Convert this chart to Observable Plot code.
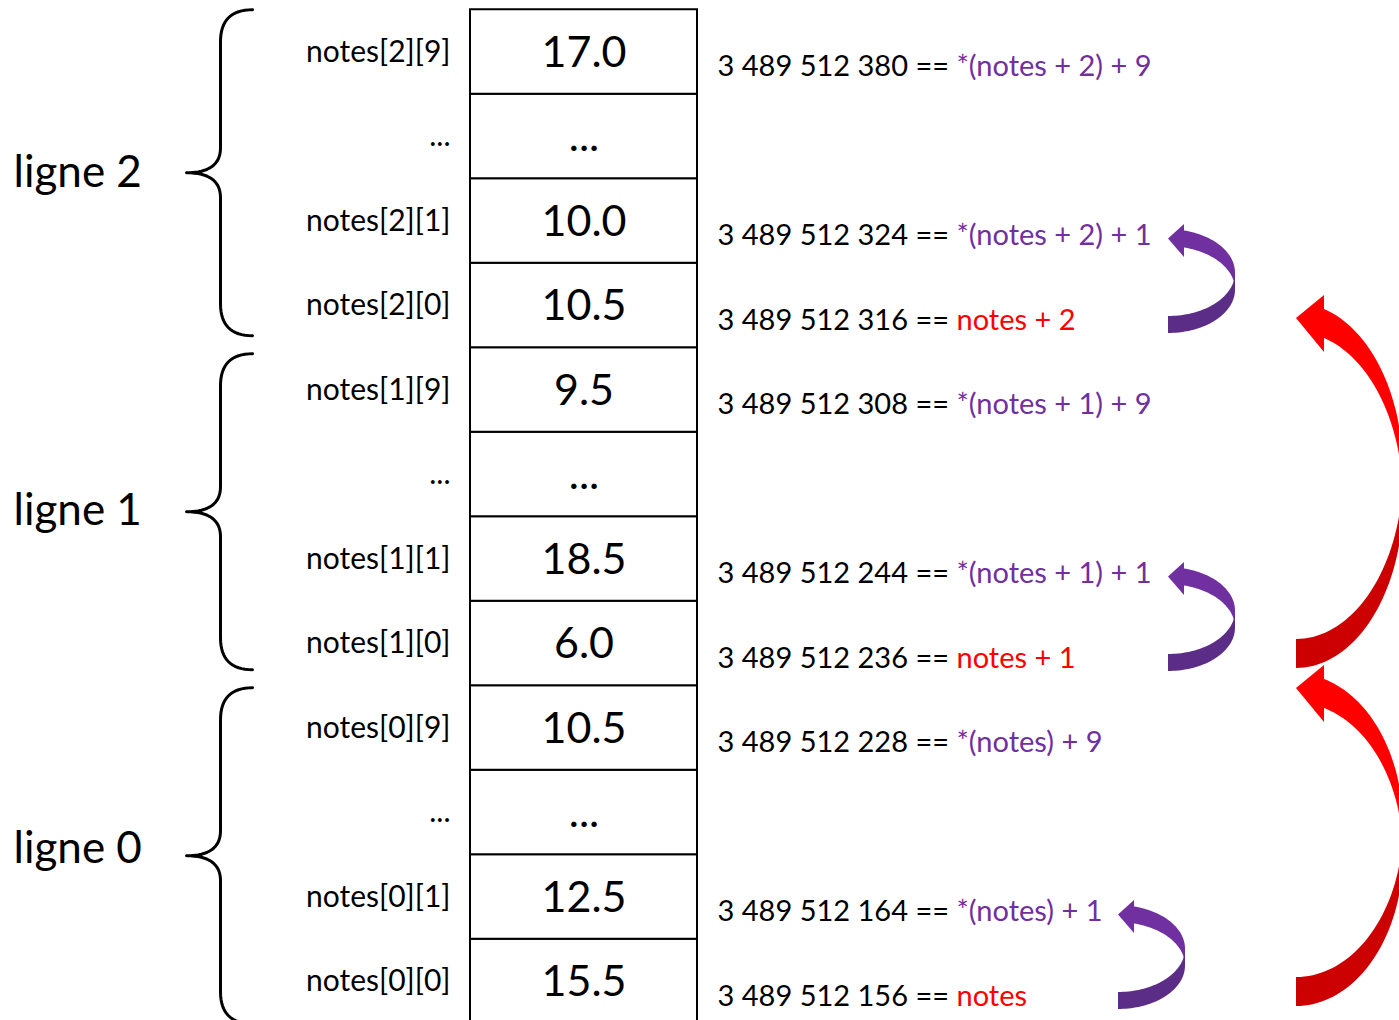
<!DOCTYPE html>
<html>
<head>
<meta charset="utf-8">
<script src="https://cdn.jsdelivr.net/npm/d3@7"></script>
<script src="https://cdn.jsdelivr.net/npm/@observablehq/plot@0.6"></script>
<style>
  html, body { margin: 0; padding: 0; background: #fff; overflow: hidden; }
</style>
</head>
<body>
<div id="chart"></div>
<script>
// ---------- data (rows from bottom to top of the memory column) ----------
const labels = ["notes[0][0]", "notes[0][1]", "...", "notes[0][9]",
                "notes[1][0]", "notes[1][1]", "...", "notes[1][9]",
                "notes[2][0]", "notes[2][1]", "...", "notes[2][9]"];
const values = ["15.5", "12.5", "...", "10.5",
                "6.0", "18.5", "...", "9.5",
                "10.5", "10.0", "...", "17.0"];
const addresses = ["3 489 512 156", "3 489 512 164", null, "3 489 512 228",
                   "3 489 512 236", "3 489 512 244", null, "3 489 512 308",
                   "3 489 512 316", "3 489 512 324", null, "3 489 512 380"];
const expressions = ["notes", "*(notes) + 1", null, "*(notes) + 9",
                     "notes + 1", "*(notes + 1) + 1", null, "*(notes + 1) + 9",
                     "notes + 2", "*(notes + 2) + 1", null, "*(notes + 2) + 9"];
const groups = ["ligne 0", "ligne 1", "ligne 2"];
// pointer jumps: element +1 (purple) and row +1 (red), as [from row, to row]
const elementJumps = [[0, 1], [4, 5], [8, 9]];
const rowJumps = [[0, 4], [4, 8]];

// ---------- layout ----------
const W = 1399, H = 1020;
const ROW_PX = 84.5;
const ROW0 = 981;                       // pixel centre of the bottom row
const Y_RANGE = [ROW0 + ROW_PX / 2, ROW0 + ROW_PX / 2 - 12 * ROW_PX];
const CELL_X1 = 470, CELL_X2 = 697;
const LABEL_X = 450, ADDR_X = 717, GROUP_X = 13;
const BRACE = {end: 252, stem: 220, tip: 186, endCurve: 32, midCurve: 25};
const braceShift = [1, -5, -6];         // tip offset from the group centre, px
const braceHalf = [168, 158, 163];      // half length of each brace, px
const PURPLE = "#7030A0", PURPLE_DARK = "#5C2D87", RED = "#FF0000", RED_DARK = "#CC0000";
const elementArrowX = [1118, 1168, 1168];
const rowArrowX = [1296, 1296];
const rowArrowTip = [45, 13];           // tip offset below the centre of the target row

// px below centre of row k  -> y value in row units
const at = (k, px) => k - px / ROW_PX;

const rows = labels.map((label, k) => ({
  k, label, value: values[k], addr: addresses[k], expr: expressions[k]
}));

// ---------- braces ----------
function quad(p0, p1, p2, n = 16) {
  const out = [];
  for (let i = 0; i <= n; i++) {
    const t = i / n, a = (1 - t) * (1 - t), b = 2 * (1 - t) * t, c = t * t;
    out.push([a * p0[0] + b * p1[0] + c * p2[0], a * p0[1] + b * p1[1] + c * p2[1]]);
  }
  return out;
}
const bracePts = [];
groups.forEach((g, gi) => {
  const c = 4 * gi + 1.5;
  const {end, stem, tip, endCurve, midCurve} = BRACE;
  const half = braceHalf[gi];
  const pts = [
    ...quad([end, -half], [stem, -half], [stem, -half + endCurve]),
    ...quad([stem, -midCurve], [stem, 0], [tip, 0]),
    ...quad([tip, 0], [stem, 0], [stem, midCurve]),
    ...quad([stem, half - endCurve], [stem, half], [end, half])
  ];
  pts.forEach(([x, py]) => bracePts.push({g, x, y: at(c, py + braceShift[gi])}));
});

// ---------- curved block arrows (ribbon halves + head) ----------
const arrowParts = [];
function ribbonArrow(id, lo, hi, x0, o) {
  // all px offsets relative to centre of row lo (downwards positive)
  const tip = (hi - lo) * -ROW_PX + o.tip;
  const c = Math.sqrt(1 - (o.hw / o.rx) ** 2);
  const flatTop = o.bottom - o.t;
  const ry = (flatTop - (tip - o.bandAtHead)) / (1 + c);
  const cy = flatTop - ry;
  const th0 = Math.asin(o.hw / o.rx);
  const N = 40;
  for (let i = 0; i <= N; i++) {
    const th = th0 + (Math.PI / 2 - th0) * i / N;
    const x = x0 + o.rx * Math.sin(th), yt = cy - ry * Math.cos(th);
    arrowParts.push({id: id + "u", x, y1: at(lo, yt), y2: at(lo, yt + o.t), fill: o.light});
  }
  for (let i = 0; i <= N; i++) {
    const th = Math.PI / 2 + (Math.PI / 2) * i / N;
    const x = x0 + o.rx * Math.sin(th), yt = cy - ry * Math.cos(th);
    arrowParts.push({id: id + "d", x, y1: at(lo, yt), y2: at(lo, yt + o.t), fill: o.dark});
  }
  arrowParts.push({id: id + "h", x: x0, y1: at(lo, tip), y2: at(lo, tip), fill: o.light});
  arrowParts.push({id: id + "h", x: x0 + o.hw, y1: at(lo, tip - o.headUp), y2: at(lo, tip + o.headDown), fill: o.light});
}
elementJumps.forEach(([lo, hi], i) => ribbonArrow("p" + i, lo, hi, elementArrowX[i], {
  tip: 18, bottom: 28, t: 17, hw: 16, rx: 67, bandAtHead: 8, headUp: 14.5, headDown: 18.5,
  light: PURPLE, dark: PURPLE_DARK
}));
rowJumps.forEach(([lo, hi], i) => ribbonArrow("r" + i, lo, hi, rowArrowX[i], {
  tip: rowArrowTip[i], bottom: 25, t: 29, hw: 28, rx: 107, bandAtHead: 9, headUp: 23, headDown: 34,
  light: RED, dark: RED_DARK
}));

// ---------- plot ----------
const FONT = "Lato, 'Open Sans', sans-serif";
const svg = Plot.plot({
  width: W, height: H, margin: 0,
  x: {domain: [0, W], range: [0, W], axis: null},
  y: {domain: [-0.5, 11.5], range: Y_RANGE, axis: null},
  color: {type: "identity"},
  style: {fontFamily: FONT, background: "#fff", color: "black"},
  marks: [
    Plot.line(bracePts, {x: "x", y: "y", z: "g", stroke: "black", strokeWidth: 3, curve: "linear"}),
    Plot.rect(rows, {x1: () => CELL_X1, x2: () => CELL_X2, y1: d => d.k - 0.5, y2: d => d.k + 0.5,
                     fill: "white", stroke: "black", strokeWidth: 2}),
    Plot.text(rows, {x: () => (CELL_X1 + CELL_X2) / 2, y: d => at(d.k, 1), text: "value",
                     fontSize: 43, fill: "black"}),
    Plot.text(rows, {x: () => LABEL_X, y: "k", text: "label", textAnchor: "end",
                     fontSize: 30, fill: "black"}),
    Plot.text(rows.filter(d => d.addr), {
      x: () => ADDR_X, y: d => at(d.k, 15), text: d => `${d.addr} == ${d.expr}`,
      textAnchor: "start", fontSize: 29,
      fill: d => d.expr.startsWith("*") ? PURPLE : RED
    }),
    Plot.text(groups, {x: () => GROUP_X, y: (d, i) => at(4 * i + 1.5, -6), text: d => d,
                       textAnchor: "start", fontSize: 44, fill: "black"}),
    Plot.area(arrowParts, {x1: "x", y1: "y1", y2: "y2", z: "id", fill: "fill", curve: "linear"})
  ]
});

// colour the numeric address part black, keep the pointer expression coloured
svg.querySelectorAll("text").forEach(t => {
  const s = t.textContent;
  const i = s.indexOf(" == ");
  if (i < 0) return;
  t.textContent = "";
  const a = document.createElementNS("http://www.w3.org/2000/svg", "tspan");
  a.setAttribute("fill", "black");
  a.textContent = s.slice(0, i + 4);
  const b = document.createElementNS("http://www.w3.org/2000/svg", "tspan");
  b.textContent = s.slice(i + 4);
  t.append(a, b);
});

document.getElementById("chart").append(svg);
</script>
</body>
</html>
